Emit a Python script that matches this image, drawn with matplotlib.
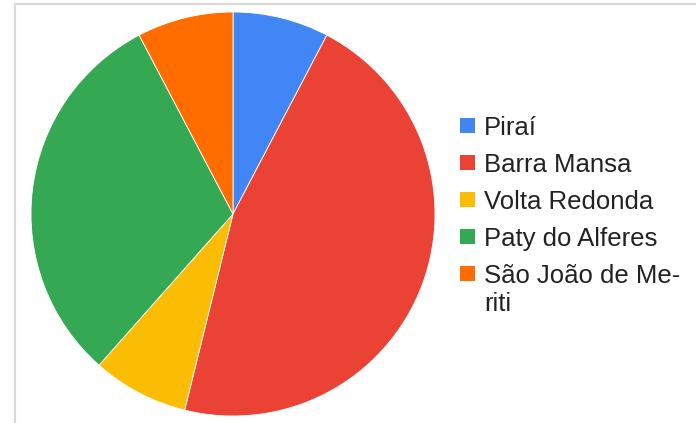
"""Pie chart of municipalities with a side legend, saved to out.png."""

import matplotlib
matplotlib.use("Agg")
import matplotlib.pyplot as plt
from matplotlib.lines import Line2D
from matplotlib.patches import Rectangle

W, H = 696, 423

labels = ["Piraí", "Barra Mansa", "Volta Redonda", "Paty do Alferes", "São João de Meriti"]
display_labels = ["Piraí", "Barra Mansa", "Volta Redonda", "Paty do Alferes", "São João de Me-\nriti"]
values = [1, 6, 1, 4, 1]
colors = ["#4285f4", "#ea4335", "#fbbc04", "#34a853", "#ff6d01"]

plt.rcParams["font.family"] = ["Liberation Sans", "DejaVu Sans"]

fig = plt.figure(figsize=(W / 100, H / 100), dpi=100)


def px(x, y):
    # pixel coords (top-left origin) -> figure fraction
    return x / W, 1 - y / H


# frame lines on top and left
fig.add_artist(Line2D([15 / W, 1], [1 - 4 / H] * 2, color="#d9d9d9", lw=1.5,
                      transform=fig.transFigure))
fig.add_artist(Line2D([15 / W] * 2, [0, 1 - 4 / H], color="#d9d9d9", lw=1.5,
                      transform=fig.transFigure))

cx, cy, r = 233, 214, 202
ax = fig.add_axes([(cx - r) / W, (H - cy - r) / H, 2 * r / W, 2 * r / H])
ax.pie(values, colors=colors, startangle=90, counterclock=False, radius=1,
       wedgeprops=dict(edgecolor="white", linewidth=0.6))
ax.set_xlim(-1, 1)
ax.set_ylim(-1, 1)
ax.set_aspect("equal")
ax.axis("off")

# legend: square + text, one row every 37 px, wrapped lines 28 px apart
for i, (lab, col) in enumerate(zip(display_labels, colors)):
    top = 118 + 37 * i
    x0, y0 = px(460, top + 15)
    fig.add_artist(Rectangle((x0, y0), 15 / W, 15 / H, color=col, lw=0,
                             transform=fig.transFigure))
    for j, line in enumerate(lab.split("\n")):
        tx, ty = px(484, top + 17 + 28 * j)
        fig.text(tx, ty, line, fontsize=18.5, color="#222222",
                 va="baseline", ha="left")

fig.savefig("out.png", dpi=100)
